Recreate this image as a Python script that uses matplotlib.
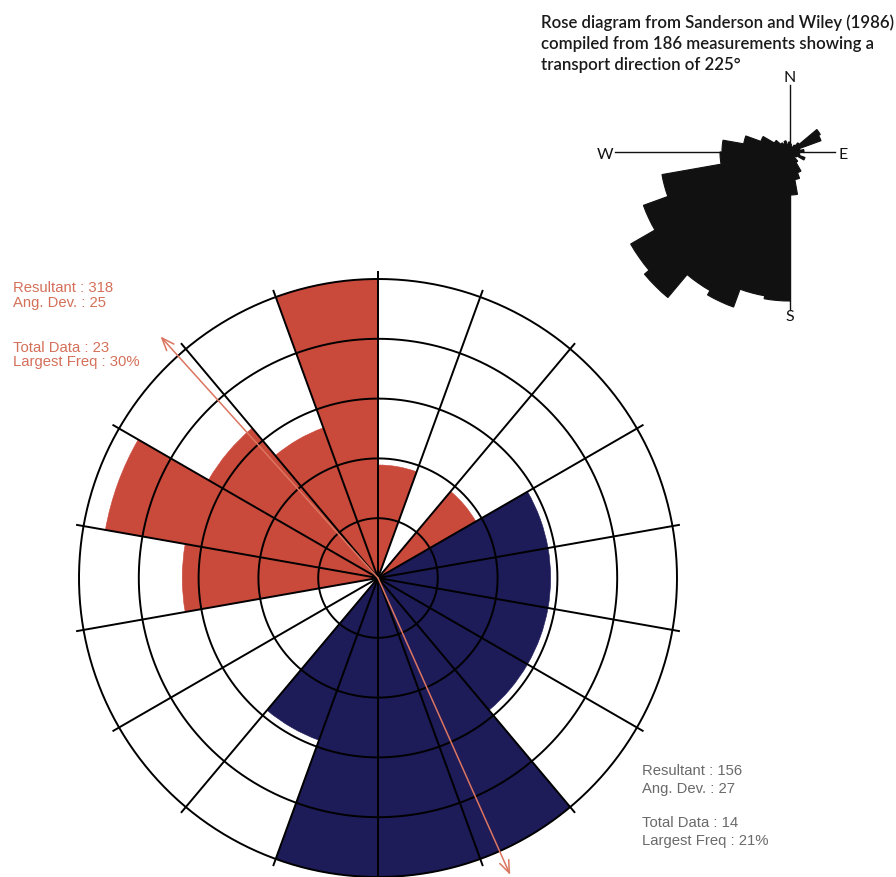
import numpy as np
import matplotlib.pyplot as plt

W, H = 896, 877

# main rose: 20 degree classes, counts per class (clockwise from north)
sectors = np.arange(0, 360, 20)
red_counts = [1, 0, 1, 0, 0, 0, 0, 0, 0, 0, 0, 0, 0, 3, 6, 3, 2, 7]
blue_counts = [0, 0, 0, 1, 1, 1, 1, 3, 3, 3, 1, 0, 0, 0, 0, 0, 0, 0]
red_resultant = 318
blue_resultant = 156
red_stats = ['Resultant : 318', 'Ang. Dev. : 25', 'Total Data : 23', 'Largest Freq : 30%']
blue_stats = ['Resultant : 156', 'Ang. Dev. : 27', 'Total Data : 14', 'Largest Freq : 21%']

# small published rose, 10 degree classes (petal length in px)
small_bins = np.arange(0, 360, 10)
small_radii = [8, 6, 5, 8, 12, 35, 33, 10, 14, 8, 10, 16, 8, 6, 12, 22, 28, 43,
               149, 146, 165, 160, 190, 184, 156, 130, 70, 68, 47, 31, 18, 12, 10, 12, 8, 10]

title_lines = ['Rose diagram from Sanderson and Wiley (1986)',
               'compiled from 186 measurements showing a',
               'transport direction of 225\u00b0']

RED = '#c9493b'
NAVY = '#1d1b58'
ARROW = '#dc7560'
RED_TXT = '#d4705a'
GREY_TXT = '#6a6a6a'


def fx(x):
    return x / W


def fy(y):
    return 1 - y / H


def polar_at(cx, cy, half):
    ax = fig.add_axes([fx(cx - half), fy(cy + half), 2 * half / W, 2 * half / H],
                      projection='polar')
    ax.set_theta_zero_location('N')
    ax.set_theta_direction(-1)
    ax.axis('off')
    return ax


fig = plt.figure(figsize=(W / 100, H / 100), dpi=100)

# ---- main rose diagram ----
R = 299
RLIM = 1.1
ax = polar_at(378, 578, R * RLIM)
ax.set_ylim(0, RLIM)

width = np.deg2rad(20)
theta = np.deg2rad(sectors)
red_r = np.sqrt(np.array(red_counts) / max(red_counts))
blue_r = np.sqrt(np.array(blue_counts) / max(blue_counts))
ax.bar(theta, red_r, width=width, align='edge', color=RED, edgecolor=RED,
       linewidth=0.4, zorder=1)
ax.bar(theta, blue_r, width=width, align='edge', color=NAVY, edgecolor=NAVY,
       linewidth=0.4, zorder=1)

tt = np.linspace(0, 2 * np.pi, 400)
for r in [0.2, 0.4, 0.6, 0.8, 1.0]:
    ax.plot(tt, np.full_like(tt, r), color='black', lw=1.4, zorder=2)
for t in theta:
    ax.plot([t, t], [0, 1.022], color='black', lw=1.4, zorder=2)

for res in [red_resultant, blue_resultant]:
    ax.annotate('', xy=(np.deg2rad(res), 1.087), xytext=(0, 0),
                arrowprops=dict(arrowstyle='->,head_length=0.9,head_width=0.35',
                                color=ARROW, lw=1.1, shrinkA=0, shrinkB=0),
                zorder=3)

left_y = [292, 307, 352, 366]
for s, y in zip(red_stats, left_y):
    fig.text(fx(13), fy(y), s, color=RED_TXT, fontsize=10.7,
             family='Liberation Sans', va='baseline')
right_y = [775, 793, 827, 845]
for s, y in zip(blue_stats, right_y):
    fig.text(fx(642), fy(y), s, color=GREY_TXT, fontsize=10.7,
             family='Liberation Sans', va='baseline')

# ---- small rose with compass cross ----
ax2 = polar_at(790, 152, 200)
ax2.set_ylim(0, 200)
ax2.bar(np.deg2rad(small_bins), small_radii, width=np.deg2rad(10), align='edge',
        color='#111111', edgecolor='#111111', linewidth=0.8, zorder=1)
for az, length in [(0, 67), (90, 45), (180, 158), (270, 175)]:
    ax2.plot([np.deg2rad(az)] * 2, [0, length], color='#111111', lw=1.0, zorder=2)

for lab, x, y in [('N', 790, 78), ('E', 843, 155), ('W', 605, 155), ('S', 790, 317)]:
    fig.text(fx(x), fy(y), lab, fontsize=11.5, family='Lato', color='#111111',
             ha='center', va='center')

for i, line in enumerate(title_lines):
    fig.text(fx(541), fy(28 + 21 * i), line, fontsize=12.1, family='Lato',
             fontweight='semibold', color='#1a1a1a', va='baseline')

fig.savefig('out.png', dpi=100)
